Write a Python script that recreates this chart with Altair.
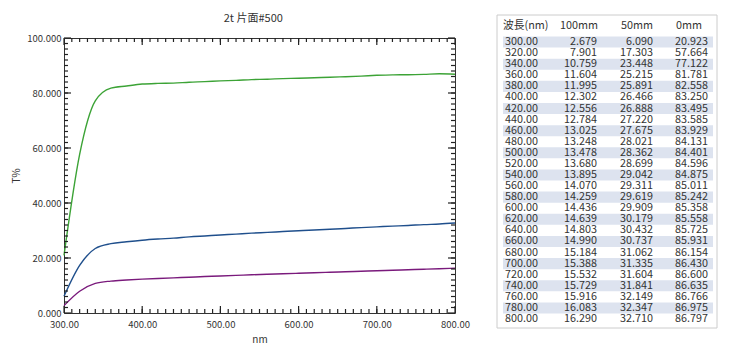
import altair as alt
import pandas as pd

wavelength = [300, 320, 340, 360, 380, 400, 420, 440, 460, 480, 500, 520, 540,
              560, 580, 600, 620, 640, 660, 680, 700, 720, 740, 760, 780, 800]
t_100mm = [2.679, 7.901, 10.759, 11.604, 11.995, 12.302, 12.556, 12.784, 13.025,
           13.248, 13.478, 13.680, 13.895, 14.070, 14.259, 14.436, 14.639, 14.803,
           14.990, 15.184, 15.388, 15.532, 15.729, 15.916, 16.083, 16.290]
t_50mm = [6.090, 17.303, 23.448, 25.215, 25.891, 26.466, 26.888, 27.220, 27.675,
          28.021, 28.362, 28.699, 29.042, 29.311, 29.619, 29.909, 30.179, 30.432,
          30.737, 31.062, 31.335, 31.604, 31.841, 32.149, 32.347, 32.710]
t_0mm = [20.923, 57.664, 77.122, 81.781, 82.558, 83.250, 83.495, 83.585, 83.929,
         84.131, 84.401, 84.596, 84.875, 85.011, 85.242, 85.358, 85.558, 85.725,
         85.931, 86.154, 86.430, 86.600, 86.635, 86.766, 86.975, 86.797]
series_names = ["100mm", "50mm", "0mm"]
series_colors = ["#7a1a7c", "#1f4f8c", "#3ca336"]
header_labels = ["波長(nm)", "100mm", "50mm", "0mm"]
x_major = [300, 400, 500, 600, 700, 800]
x_minor = list(range(310, 800, 10))
y_major = [0, 20, 40, 60, 80, 100]
y_minor = list(range(2, 100, 2))

W, H = 391, 275
FONT = "Noto Sans CJK JP"
TICK = "#222222"

rows = []
for s, vals in zip(series_names, [t_100mm, t_50mm, t_0mm]):
    for w, v in zip(wavelength, vals):
        rows.append({"wl": w, "T": v, "series": s})
df = pd.DataFrame(rows)

xs = alt.Scale(domain=[300, 800], nice=False, zero=False)
ys = alt.Scale(domain=[0, 100], nice=False)

lines = alt.Chart(df).mark_line(interpolate="monotone", strokeWidth=1.4).encode(
    x=alt.X("wl:Q", scale=xs, axis=alt.Axis(
        values=x_major, format=".2f", ticks=False, tickSize=0, domain=False, grid=False,
        labelFlush=False, labelPadding=6, title="nm", titlePadding=6,
        labelFontSize=9.5, titleFontSize=10, titleFontWeight="normal",
        labelColor="#333", titleColor="#333", labelFont=FONT, titleFont=FONT)),
    y=alt.Y("T:Q", scale=ys, axis=alt.Axis(
        values=y_major, format=".3f", ticks=False, tickSize=0, domain=False, grid=False,
        labelFlush=False, labelPadding=3, title="T%", titlePadding=5,
        labelFontSize=9.5, titleFontSize=10, titleFontWeight="normal",
        labelColor="#333", titleColor="#333", labelFont=FONT, titleFont=FONT)),
    color=alt.Color("series:N", scale=alt.Scale(domain=series_names, range=series_colors),
                    legend=None),
)


def xticks(vals, length, top):
    y0, y1 = (0, length) if top else (H, H - length)
    return alt.Chart(pd.DataFrame({"xv": vals})).mark_rule(
        color=TICK, strokeWidth=1.2).encode(
        x=alt.X("xv:Q", scale=xs, axis=None), y=alt.value(y0), y2=alt.value(y1))


def yticks(vals, length, right):
    x0, x1 = (W, W - length) if right else (0, length)
    return alt.Chart(pd.DataFrame({"yv": vals})).mark_rule(
        color=TICK, strokeWidth=1.2).encode(
        y=alt.Y("yv:Q", scale=ys, axis=None), x=alt.value(x0), x2=alt.value(x1))


# ---- table (drawn to the right of the plot) ----
trows = []
for i, w in enumerate(wavelength):
    trows.append({"r": i, "r0": i - 0.5, "r1": i + 0.5, "shade": i % 2 == 0,
                  "c0": f"{w:.2f}", "c1": f"{t_100mm[i]:.3f}",
                  "c2": f"{t_50mm[i]:.3f}", "c3": f"{t_0mm[i]:.3f}"})
tdf = pd.DataFrame(trows)
hdf = pd.DataFrame([{"r": -1.45, "h0": header_labels[0], "h1": header_labels[1],
                     "h2": header_labels[2], "h3": header_labels[3]}])
bdf = pd.DataFrame([{"top": -2.44, "bot": 25.81}])

TX = 433   # table left edge relative to plot left
TW = 220
tys = alt.Scale(domain=[-2.44, 25.81], range=[-23, 290], nice=False, zero=False)
tb = alt.Chart(tdf)

border = alt.Chart(bdf).mark_rect(fill="white", stroke="#cccccc", strokeWidth=1).encode(
    y=alt.Y("top:Q", scale=tys, axis=None), y2="bot:Q",
    x=alt.value(TX), x2=alt.value(TX + TW))

stripes = tb.transform_filter("datum.shade").mark_rect(color="#dde3ef").encode(
    y=alt.Y("r0:Q", scale=tys, axis=None), y2="r1:Q",
    x=alt.value(TX + 6), x2=alt.value(TX + 216))


def col(field, xpos, align, data=tb):
    return data.mark_text(align=align, baseline="middle", fontSize=10.8, font=FONT,
                          color="#333").encode(
        y=alt.Y("r:Q", scale=tys, axis=None), x=alt.value(TX + xpos), text=f"{field}:N")


hb = alt.Chart(hdf)

chart = alt.layer(
    lines,
    xticks(x_minor, 4, False), xticks(x_major, 7, False),
    xticks(x_minor, 4, True), xticks(x_major, 7, True),
    yticks(y_minor, 4, False), yticks(y_major, 7, False),
    yticks(y_minor, 4, True), yticks(y_major, 7, True),
    border, stripes,
    col("c0", 8, "left"), col("c1", 100, "right"), col("c2", 156, "right"),
    col("c3", 211, "right"),
    col("h0", 6, "left", hb), col("h1", 82, "center", hb), col("h2", 140, "center", hb),
    col("h3", 192, "center", hb),
).resolve_scale(
    x="independent", y="independent"
).resolve_axis(
    x="independent", y="independent"
).properties(
    width=W, height=H,
    title=alt.TitleParams("2t 片面#500", fontSize=11, fontWeight="normal", font=FONT,
                          color="#333", offset=-9, anchor="start", dx=212),
).configure(
    padding={"left": 11, "top": 12, "right": 5, "bottom": 5},
    background="white",
).configure_view(stroke="#333333", strokeWidth=1)

chart.save("out.html", embed_options={"renderer": "svg", "actions": False})
